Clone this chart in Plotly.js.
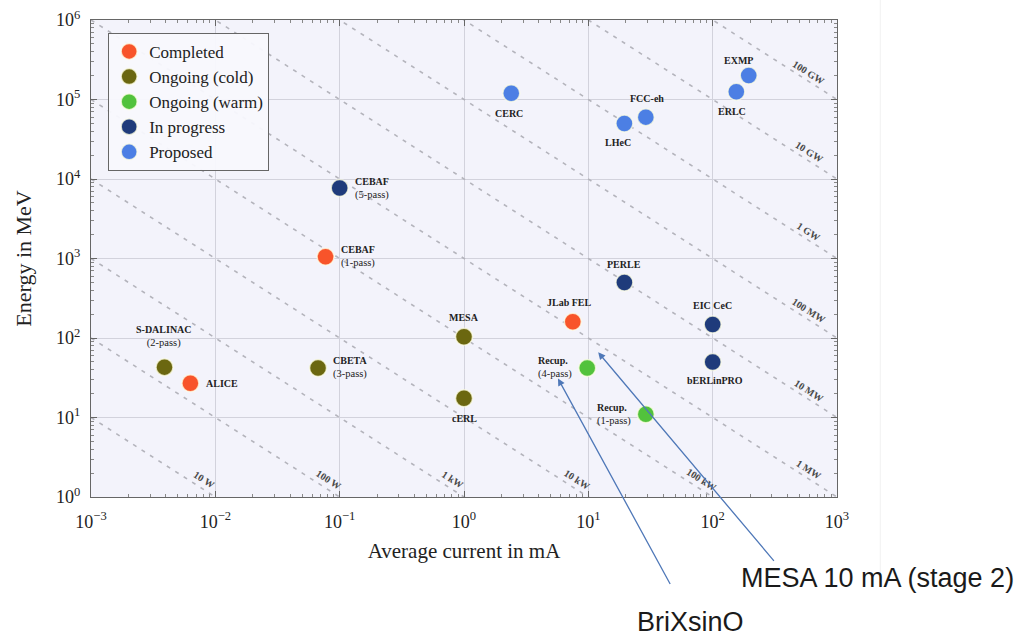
<!DOCTYPE html>
<html><head><meta charset="utf-8">
<script src="https://cdn.plot.ly/plotly-3.0.1.min.js"></script>
<style>html,body{margin:0;padding:0;background:#fff}#chart{width:1017px;height:637px}</style>
</head><body><div id="chart"></div>
<script>
// ---- data ----
const categories = ['Completed', 'Ongoing (cold)', 'Ongoing (warm)', 'In progress', 'Proposed'];

const completedNames   = ['ALICE', 'CEBAF', 'JLab FEL'];
const completedNotes   = ['', '(1-pass)', ''];
const completedCurrent = [0.0063, 0.077, 7.5];
const completedEnergy  = [27, 1050, 160];

const coldNames   = ['S-DALINAC', 'CBETA', 'MESA', 'cERL'];
const coldNotes   = ['(2-pass)', '(3-pass)', '', ''];
const coldCurrent = [0.0039, 0.067, 1.0, 1.0];
const coldEnergy  = [43, 42, 104, 17.5];

const warmNames   = ['Recup.', 'Recup.'];
const warmNotes   = ['(4-pass)', '(1-pass)'];
const warmCurrent = [9.8, 29];
const warmEnergy  = [42, 11];

const progressNames   = ['CEBAF', 'PERLE', 'EIC CeC', 'bERLinPRO'];
const progressNotes   = ['(5-pass)', '', '', ''];
const progressCurrent = [0.1, 19.5, 100, 100];
const progressEnergy  = [7700, 500, 148, 50];

const proposedNames   = ['CERC', 'LHeC', 'FCC-eh', 'ERLC', 'EXMP'];
const proposedNotes   = ['', '', '', '', ''];
const proposedCurrent = [2.4, 19.5, 29, 155, 195];
const proposedEnergy  = [120000, 50000, 60000, 125000, 200000];

// beam power lines (kW = mA * MeV)
const powerKW     = [0.01, 0.1, 1, 10, 100, 1000, 1e4, 1e5, 1e6, 1e7, 1e8];
const powerLabels = ['10 W', '100 W', '1 kW', '10 kW', '100 kW', '1 MW', '10 MW', '100 MW', '1 GW', '10 GW', '100 GW'];

// external callouts
const calloutText    = ['BriXsinO', 'MESA 10 mA (stage 2)'];
const calloutCurrent = [5.7, 12];
const calloutEnergy  = [31, 66];

const xTickVals = [1e-3, 1e-2, 1e-1, 1, 10, 100, 1000];
const xTickText = ['10<sup>−3</sup>', '10<sup>−2</sup>', '10<sup>−1</sup>', '10<sup>0</sup>', '10<sup>1</sup>', '10<sup>2</sup>', '10<sup>3</sup>'];
const yTickVals = [1, 10, 100, 1e3, 1e4, 1e5, 1e6];
const yTickText = ['10<sup>0</sup>', '10<sup>1</sup>', '10<sup>2</sup>', '10<sup>3</sup>', '10<sup>4</sup>', '10<sup>5</sup>', '10<sup>6</sup>'];

// ---- styling ----
const colors = ['#f8542a', '#6b6710', '#52c23c', '#1f3b7b', '#4c7fe4'];
const serif = 'Liberation Serif, Times New Roman, serif';

// label placement: [anchor, xshift, yshift]
const labelPlace = {
  'ALICE': ['left', 14, 0],
  'CEBAF (1-pass)': ['left', 13, 0],
  'JLab FEL': ['center', -3, 19],
  'S-DALINAC (2-pass)': ['center', 0, 31],
  'CBETA (3-pass)': ['left', 13, 0],
  'MESA': ['center', 0, 19],
  'cERL': ['center', 0, -20],
  'Recup. (4-pass)': ['right', -13, 0],
  'Recup. (1-pass)': ['right', -13, 0],
  'CEBAF (5-pass)': ['left', 13, 0],
  'PERLE': ['center', 0, 18],
  'EIC CeC': ['center', 0, 19],
  'bERLinPRO': ['center', 2, -19],
  'CERC': ['center', -2, -20],
  'LHeC': ['center', -6, -19],
  'FCC-eh': ['center', 1, 19],
  'ERLC': ['center', -4, -20],
  'EXMP': ['center', -10, 15]
};

const groups = [
  [completedNames, completedNotes, completedCurrent, completedEnergy],
  [coldNames, coldNotes, coldCurrent, coldEnergy],
  [warmNames, warmNotes, warmCurrent, warmEnergy],
  [progressNames, progressNotes, progressCurrent, progressEnergy],
  [proposedNames, proposedNotes, proposedCurrent, proposedEnergy]
];

const traces = [];
const annotations = [];

// power lines
const xMin = 1e-3, xMax = 1e3;
powerKW.forEach((p, i) => {
  traces.push({
    x: [xMin, xMax], y: [p / xMin, p / xMax],
    mode: 'lines', type: 'scatter', showlegend: false, hoverinfo: 'skip',
    line: {color: '#b4b4bc', width: 1.6, dash: '4px,6px'}
  });
  let lx, ly, xs;
  if (p <= 100) { ly = 1.28; lx = p / ly; xs = 2; } else { lx = 590; ly = p / lx; xs = 0; }
  annotations.push({
    x: Math.log10(lx), y: Math.log10(ly), xref: 'x', yref: 'y',
    text: '<b>' + powerLabels[i] + '</b>', showarrow: false, textangle: 32.6,
    xshift: xs, yshift: 9,
    font: {family: serif, size: 10, color: '#4a4a4a'}
  });
});

// scatter groups
groups.forEach((g, gi) => {
  const [names, notes, cur, en] = g;
  traces.push({
    x: cur, y: en, type: 'scatter', mode: 'markers', name: categories[gi],
    legendgroup: 'g' + gi,
    marker: {color: colors[gi], size: 17, line: {color: 'rgba(255,255,230,0.75)', width: 1.5}},
    hovertext: names, hoverinfo: 'text+x+y'
  });
  names.forEach((n, k) => {
    const key = notes[k] ? n + ' ' + notes[k] : n;
    const pl = labelPlace[key] || ['center', 0, 18];
    const txt = '<b>' + n + '</b>' + (notes[k] ? '<br><span style="font-size:10.5px">' + notes[k] + '</span>' : '');
    annotations.push({
      x: Math.log10(cur[k]), y: Math.log10(en[k]), xref: 'x', yref: 'y',
      text: txt, showarrow: false, xanchor: pl[0], align: pl[0] === 'right' ? 'left' : pl[0],
      xshift: pl[1], yshift: pl[2],
      font: {family: serif, size: 10, color: '#222'}
    });
  });
});

// callouts (arrows + texts)
const calloutTail = [[113, 207], [177, 210]];
const calloutTextPos = [[0.803, -0.263], [1.054, -0.17]];
calloutText.forEach((t, i) => {
  annotations.push({
    x: Math.log10(calloutCurrent[i]), y: Math.log10(calloutEnergy[i]), xref: 'x', yref: 'y',
    text: '', showarrow: true, ax: calloutTail[i][0], ay: calloutTail[i][1],
    arrowcolor: '#4f78b8', arrowwidth: 1.3, arrowhead: 2, arrowsize: 1.1
  });
  annotations.push({
    x: calloutTextPos[i][0], y: calloutTextPos[i][1], xref: 'paper', yref: 'paper',
    text: t, showarrow: false, xanchor: 'center', yanchor: 'middle',
    font: {family: 'Liberation Sans, Arial, sans-serif', size: 27, color: '#1a1a1a'}
  });
});

const minorX = [], minorY = [];
for (let k = -3; k < 3; k++) for (let m = 2; m < 10; m++) minorX.push(m * Math.pow(10, k));
for (let k = 0; k < 6; k++) for (let m = 2; m < 10; m++) minorY.push(m * Math.pow(10, k));

const axisCommon = {
  type: 'log', tickmode: 'array', ticks: 'inside', ticklen: 6, tickcolor: '#666', tickwidth: 1,
  showline: true, linecolor: '#666', linewidth: 1.2, mirror: 'allticks',
  showgrid: true, gridcolor: '#d2d2dc', gridwidth: 1, zeroline: false,
  tickfont: {family: serif, size: 18, color: '#222'}
};

const layout = {
  width: 1017, height: 637,
  margin: {l: 91, r: 180, t: 20, b: 140},
  paper_bgcolor: '#ffffff', plot_bgcolor: '#f3f3fb',
  showlegend: true,
  legend: {
    x: 0.023, y: 0.973, xanchor: 'left', yanchor: 'top',
    bgcolor: 'rgba(248,248,253,0.95)', bordercolor: '#666', borderwidth: 1,
    font: {family: serif, size: 17, color: '#222'},
    traceorder: 'grouped', tracegroupgap: 0, itemsizing: 'trace'
  },
  xaxis: Object.assign({}, axisCommon, {
    range: [-3, 3], tickvals: xTickVals, ticktext: xTickText, ticklabelstandoff: 8,
    minor: {tickmode: 'array', tickvals: minorX, ticks: 'inside', ticklen: 3, tickcolor: '#888', showgrid: false},
    title: {text: 'Average current in mA', font: {family: serif, size: 21, color: '#222'}, standoff: 12}
  }),
  yaxis: Object.assign({}, axisCommon, {
    range: [0, 6], tickvals: yTickVals, ticktext: yTickText, ticklabelstandoff: 6,
    minor: {tickmode: 'array', tickvals: minorY, ticks: 'inside', ticklen: 3, tickcolor: '#888', showgrid: false},
    title: {text: 'Energy in MeV', font: {family: serif, size: 22, color: '#222'}, standoff: 18}
  }),
  annotations: annotations,
  shapes: [
    {type: 'line', xref: 'paper', yref: 'paper', x0: 1.058, x1: 1.058, y0: -0.19, y1: 1.042, line: {color: '#f1f1f1', width: 1}}
  ]
};

Plotly.newPlot('chart', traces, layout, {displayModeBar: false, staticPlot: true});
</script>
</body></html>
